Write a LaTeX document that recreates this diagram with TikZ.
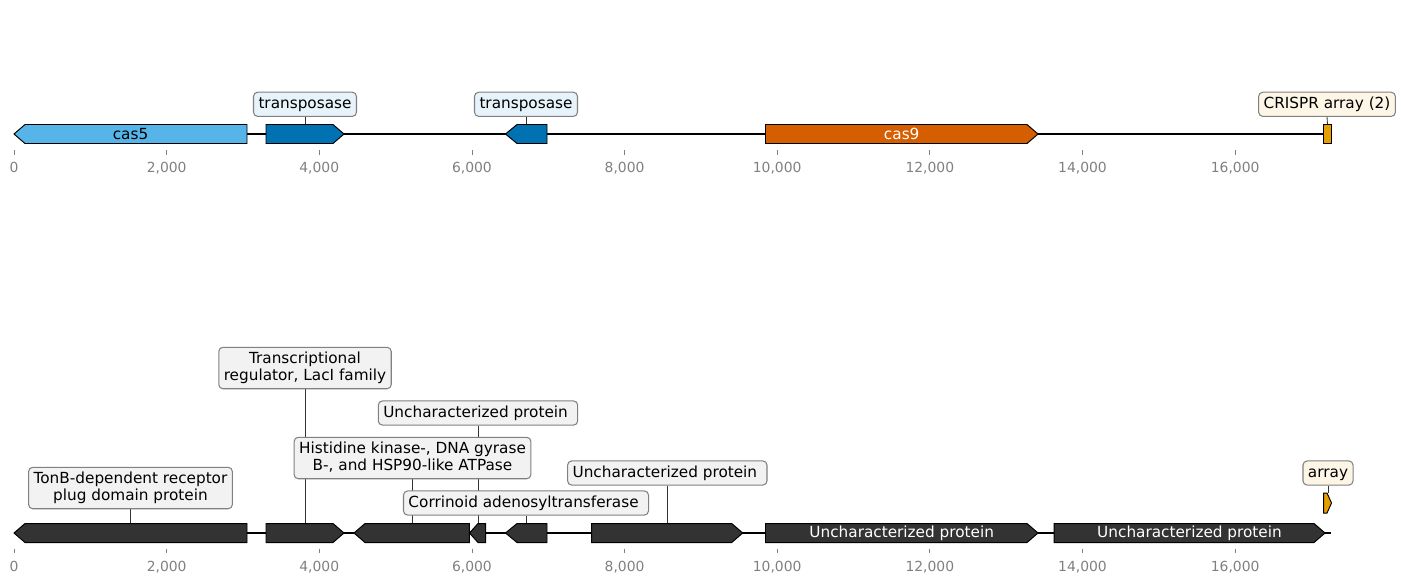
\documentclass[tikz,border=0pt]{standalone}
\usepackage{fontspec}
\setmainfont{DejaVu Sans}
\usetikzlibrary{backgrounds}
\definecolor{casblue}{HTML}{56B4E9}
\definecolor{tnpblue}{HTML}{0072B2}
\definecolor{casorange}{HTML}{D55E00}
\definecolor{arrayyellow}{HTML}{E69F00}
\definecolor{genegray}{HTML}{333333}
\definecolor{tickgray}{HTML}{808080}
\definecolor{bluefill}{HTML}{E6F3FA}
\definecolor{creamfill}{HTML}{FDF6E6}
\definecolor{grayfill}{HTML}{F2F2F2}
\newcommand\lpstrut{\vrule width 0pt height 8.4pt depth 2.6pt}

\begin{document}
\begin{tikzpicture}[
  x=0.72pt, y=-0.72pt,
  gene/.style={draw=black,line width=0.7pt,line join=miter},
  track/.style={draw=black,line width=1.1pt},
  tick/.style={draw=tickgray,line width=0.6pt},
  ticklbl/.style={text=tickgray,font=\fontsize{10}{12}\selectfont,anchor=base,inner sep=0pt},
  lbl/.style={draw=tickgray,line width=0.75pt,rounded corners=3pt,inner xsep=3.6pt,inner ysep=3.2pt,
    align=center,font=\fontsize{11}{12.5}\selectfont,
    execute at begin node=\lpstrut, execute at end node=\lpstrut},
  glbl/.style={font=\fontsize{11}{12.5}\selectfont,inner sep=0pt},
  conn/.style={draw=black!80,line width=0.6pt}
]
  \useasboundingbox (0,0) rectangle (1401,582);

  % top track: CRISPR-Cas locus
  \draw[track] (14,134) -- (1331,134);
  \draw[gene,fill=casblue] (25,124.5) -- (247,124.5) -- (247,143.5) -- (25,143.5) -- (14,134) -- cycle;
  \draw[gene,fill=tnpblue] (266,124.5) -- (333,124.5) -- (344,134) -- (333,143.5) -- (266,143.5) -- cycle;
  \draw[gene,fill=tnpblue] (517,124.5) -- (547,124.5) -- (547,143.5) -- (517,143.5) -- (505.5,134) -- cycle;
  \draw[gene,fill=casorange] (765.5,124.5) -- (1027,124.5) -- (1038,134) -- (1027,143.5) -- (765.5,143.5) -- cycle;
  \draw[gene,fill=arrayyellow] (1323.5,124.5) rectangle (1331,143.5);
  \node[glbl] (cas5) at (130.5,134) {cas5};
  \node[glbl,text=white] (cas9) at (901.7,134) {cas9};

  \coordinate (t1) at (305,124.5);
  \coordinate (t2) at (526,124.5);
  \coordinate (t3) at (1327.5,124.5);
  \node[lbl,fill=bluefill] (a1) at (305,104.3) {transposase};
  \node[lbl,fill=bluefill] (a2) at (526,104.3) {transposase};
  \node[lbl,fill=creamfill] (a3) at (1327,104.3) {CRISPR array (2)};

  \foreach \k/\t in {0/0,1/{2,000},2/{4,000},3/{6,000},4/{8,000},5/{10,000},6/{12,000},7/{14,000},8/{16,000}} {
    \draw[tick] (14+\k*152.64,150) -- (14+\k*152.64,154.5);
    \node[ticklbl] at (14+\k*152.64,172.5) {\t};
  }

  % bottom track: annotated genes
  \draw[track] (14,533) -- (1331,533);
  \draw[gene,fill=genegray] (25,523.5) -- (247,523.5) -- (247,542.5) -- (25,542.5) -- (14,533) -- cycle;
  \draw[gene,fill=genegray] (266,523.5) -- (333,523.5) -- (344,533) -- (333,542.5) -- (266,542.5) -- cycle;
  \draw[gene,fill=genegray] (365,523.5) -- (469.3,523.5) -- (469.3,542.5) -- (365,542.5) -- (354,533) -- cycle;
  \draw[gene,fill=genegray] (478,523.5) -- (485.7,523.5) -- (485.7,542.5) -- (478,542.5) -- (469.5,533) -- cycle;
  \draw[gene,fill=genegray] (517,523.5) -- (547,523.5) -- (547,542.5) -- (517,542.5) -- (505.5,533) -- cycle;
  \draw[gene,fill=genegray] (591.7,523.5) -- (731.7,523.5) -- (742.7,533) -- (731.7,542.5) -- (591.7,542.5) -- cycle;
  \draw[gene,fill=genegray] (765.5,523.5) -- (1027,523.5) -- (1038,533) -- (1027,542.5) -- (765.5,542.5) -- cycle;
  \draw[gene,fill=genegray] (1054,523.5) -- (1314,523.5) -- (1325,533) -- (1314,542.5) -- (1054,542.5) -- cycle;
  \draw[gene,fill=arrayyellow] (1323.5,493) -- (1327,493) -- (1331.5,503) -- (1327,513) -- (1323.5,513) -- cycle;
  \node[glbl,text=white] (g7) at (901.7,533) {Uncharacterized protein};
  \node[glbl,text=white] (g8) at (1189.5,533) {Uncharacterized protein};

  \coordinate (b1) at (130.5,523.5);
  \coordinate (b2) at (305,523.5);
  \coordinate (b3) at (412.5,523.5);
  \coordinate (b4) at (478,523.5);
  \coordinate (b5) at (526,523.5);
  \coordinate (b6) at (667.3,523.5);
  \coordinate (b9) at (1328,493);
  \node[lbl,fill=grayfill] (c1) at (130.5,488) {TonB-dependent receptor\\plug domain protein};
  \node[lbl,fill=grayfill] (c2) at (305,368) {Transcriptional\\regulator, LacI family};
  \node[lbl,fill=grayfill] (c3) at (412.5,458) {Histidine kinase-, DNA gyrase\\B-, and HSP90-like ATPase};
  \node[lbl,fill=grayfill] (c4) at (478,413) {Uncharacterized protein~};
  \node[lbl,fill=grayfill] (c5) at (526,503) {Corrinoid adenosyltransferase~};
  \node[lbl,fill=grayfill] (c6) at (667.3,473) {Uncharacterized protein~};
  \node[lbl,fill=creamfill] (c9) at (1328,473) {array};

  \foreach \k/\t in {0/0,1/{2,000},2/{4,000},3/{6,000},4/{8,000},5/{10,000},6/{12,000},7/{14,000},8/{16,000}} {
    \draw[tick] (14+\k*152.64,548.5) -- (14+\k*152.64,553);
    \node[ticklbl] at (14+\k*152.64,571.5) {\t};
  }

  % leader lines behind the boxes
  \begin{pgfonlayer}{background}
    \draw[conn] (a1) -- (t1);
    \draw[conn] (a2) -- (t2);
    \draw[conn] (a3.south) -- (t3);
    \draw[conn] (c1) -- (b1);
    \draw[conn] (c2) -- (b2);
    \draw[conn] (c3) -- (b3);
    \draw[conn] (c4) -- (b4);
    \draw[conn] (c5) -- (b5);
    \draw[conn] (c6) -- (b6);
    \draw[conn] (c9) -- (b9);
  \end{pgfonlayer}
\end{tikzpicture}
\end{document}
